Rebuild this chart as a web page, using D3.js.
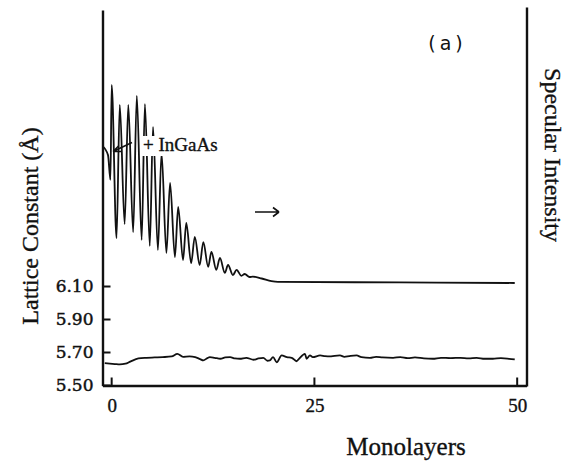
<!DOCTYPE html>
<html>
<head>
<meta charset="utf-8">
<script src="https://cdn.jsdelivr.net/npm/d3@7"></script>
<style>
  body { margin: 0; background: #fff; }
  .serif { font-family: "Liberation Serif", "Times New Roman", serif; fill: #111; stroke: #111; stroke-width: 0.35px; }
</style>
</head>
<body>
<div class="chart"></div>
<script>
// Tick labels
var xTicks = [0, 25, 50];
var yTicks = [5.50, 5.70, 5.90, 6.10];

// Specular intensity (arbitrary units, right axis) vs monolayers
var intensityML = [-1.13, -0.45, -0.15, 0.0, 0.6, 1.0, 1.6, 2.05, 2.65, 3.1, 3.7, 4.1, 4.7, 5.1, 5.7,
  6.15, 6.75, 7.2, 7.8, 8.2, 8.8, 9.2, 9.8, 10.25, 10.85, 11.3, 11.9, 12.3, 12.9, 13.35, 13.95,
  14.35, 14.95, 15.4, 16.0, 16.4, 17.0, 17.4, 18.5, 19.7, 20.5, 30, 40, 49.7];
var intensityVal = [63.7, 61.3, 54.7, 80.0, 39.2, 74.7, 42.9, 74.7, 40.8, 77.1, 38.7, 74.9, 37.1, 68.8, 36.0,
  61.9, 35.2, 53.9, 34.1, 47.5, 33.3, 43.2, 32.5, 39.5, 32.0, 38.1, 31.5, 35.5, 30.7, 33.9, 29.9,
  32.0, 29.3, 30.7, 29.1, 29.6, 28.8, 28.9, 28.4, 27.7, 27.5, 27.4, 27.3, 27.2];

// Lattice constant (Angstrom, left axis) vs monolayers
var latticeML = [-0.85, 0.4, 1.0, 1.7, 2.3, 3.3, 4.3, 5.3, 6.3, 7.4, 8.1, 8.8, 9.6, 10.3, 10.9, 11.3,
  11.8, 12.1, 12.7, 13.4, 14.0, 14.6, 15.2, 15.8, 16.6, 17.5, 18.1, 18.7, 19.2, 19.5, 19.9, 20.35,
  20.96, 21.6, 22.2, 22.8, 23.1, 23.83, 24.04, 24.45, 24.8, 25.7, 26.3, 26.9, 27.5, 28.15, 28.7,
  29.3, 30.2, 30.8, 31.85, 32.6, 33.4, 34.7, 35.6, 36.5, 37.4, 38.5, 39.6, 40.6, 41.8, 43.0, 44.0,
  45.0, 46.0, 47.0, 48.0, 49.0, 49.7];
var latticeVal = [5.635, 5.630, 5.628, 5.632, 5.645, 5.664, 5.668, 5.670, 5.672, 5.676, 5.692, 5.674,
  5.676, 5.672, 5.660, 5.652, 5.666, 5.672, 5.668, 5.662, 5.670, 5.672, 5.664, 5.662, 5.668, 5.656,
  5.664, 5.668, 5.650, 5.652, 5.672, 5.641, 5.682, 5.672, 5.668, 5.647, 5.662, 5.692, 5.662, 5.682,
  5.672, 5.682, 5.678, 5.676, 5.680, 5.682, 5.674, 5.678, 5.682, 5.672, 5.668, 5.674, 5.670, 5.668,
  5.672, 5.666, 5.670, 5.664, 5.662, 5.668, 5.666, 5.668, 5.664, 5.668, 5.662, 5.662, 5.666, 5.662,
  5.658];

var svgWidth = 568;
var svgHeight = 466;

var svg = d3.select(".chart")
  .append("svg")
  .attr("width", svgWidth)
  .attr("height", svgHeight);

// Scales
var x = d3.scaleLinear().domain([-1.13, 51.15]).range([102.5, 526.5]);
var y = d3.scaleLinear().domain([5.5, 7.776]).range([385.5, 10]);
var yInt = d3.scaleLinear().domain([0, 100]).range([385, 10]);

var xLeft = x(-1.13);
var yBottom = y(5.5);

// Bottom axis (labels only, ticks drawn below)
var xAxis = d3.axisBottom(x)
  .tickValues(xTicks)
  .tickFormat(d3.format("d"))
  .tickSize(0)
  .tickPadding(13);

svg.append("g")
  .attr("transform", "translate(0," + yBottom + ")")
  .call(xAxis)
  .call(function(g) {
    g.select(".domain").attr("stroke", "#111").attr("stroke-width", 2.4);
    g.selectAll(".tick text")
      .attr("class", "serif")
      .style("font-size", "19px");
  });

// Left axis
var yAxis = d3.axisLeft(y)
  .tickValues(yTicks)
  .tickFormat(d3.format(".2f"))
  .tickSize(0)
  .tickPadding(9);

svg.append("g")
  .attr("transform", "translate(" + xLeft + ",0)")
  .call(yAxis)
  .call(function(g) {
    g.select(".domain").attr("stroke", "#111").attr("stroke-width", 2.4);
    g.selectAll(".tick text")
      .style("font-family", "'DejaVu Serif', serif")
      .style("font-size", "17px")
      .style("fill", "#111")
      .style("stroke", "#111")
      .style("stroke-width", "0.45px");
  });

// Inward tick marks
svg.selectAll("line.xtick")
  .data(xTicks)
  .enter().append("line")
  .attr("class", "xtick")
  .attr("x1", function(d) { return x(d); })
  .attr("x2", function(d) { return x(d); })
  .attr("y1", yBottom)
  .attr("y2", yBottom - 8)
  .attr("stroke", "#111")
  .attr("stroke-width", 2);

svg.selectAll("line.ytick")
  .data(yTicks)
  .enter().append("line")
  .attr("class", "ytick")
  .attr("x1", xLeft)
  .attr("x2", xLeft + 8)
  .attr("y1", function(d) { return y(d); })
  .attr("y2", function(d) { return y(d); })
  .attr("stroke", "#111")
  .attr("stroke-width", 2);

// Right axis: plain line
svg.append("g")
  .attr("transform", "translate(" + x(51.15) + ",0)")
  .call(d3.axisRight(yInt.copy().domain([0, 100.8]).range([386, 7])).tickValues([]).tickSizeOuter(0))
  .call(function(g) { g.select(".domain").attr("stroke", "#111").attr("stroke-width", 2.4); });

// Curves
var intensityData = intensityML.map(function(m, i) { return {ml: m, v: intensityVal[i]}; });
var latticeData = latticeML.map(function(m, i) { return {ml: m, v: latticeVal[i]}; });

var intensityLine = d3.line()
  .x(function(d) { return x(d.ml); })
  .y(function(d) { return yInt(d.v); })
  .curve(d3.curveMonotoneX);

var latticeLine = d3.line()
  .x(function(d) { return x(d.ml); })
  .y(function(d) { return y(d.v); })
  .curve(d3.curveMonotoneX);

svg.append("path")
  .datum(intensityData)
  .attr("fill", "none")
  .attr("stroke", "#111")
  .attr("stroke-width", 1.8)
  .attr("stroke-linejoin", "round")
  .attr("d", intensityLine);

svg.append("path")
  .datum(latticeData)
  .attr("fill", "none")
  .attr("stroke", "#111")
  .attr("stroke-width", 1.8)
  .attr("stroke-linejoin", "round")
  .attr("d", latticeLine);

// "+ InGaAs" annotation with white backing
svg.append("rect")
  .attr("x", 142).attr("y", 136)
  .attr("width", 78).attr("height", 20)
  .attr("fill", "#fff");

svg.append("text")
  .attr("class", "serif")
  .attr("x", 143)
  .attr("y", 151)
  .style("font-size", "19px")
  .text("+ InGaAs");

// small arrow to the curve
svg.append("path")
  .attr("d", "M132,142.5 L113,151.5 M113,151.5 L119,145.5 M113,151.5 L121,151.5")
  .attr("fill", "none")
  .attr("stroke", "#111")
  .attr("stroke-width", 1.5);

// right-pointing arrow
svg.append("path")
  .attr("d", "M255,212 L279,212 M279,212 L273,207.5 M279,212 L273,216.5")
  .attr("fill", "none")
  .attr("stroke", "#111")
  .attr("stroke-width", 1.6);

// (a) panel label
svg.append("text")
  .attr("x", 447.5)
  .attr("y", 50)
  .attr("text-anchor", "middle")
  .style("font-family", "'DejaVu Sans', sans-serif")
  .style("font-size", "19px")
  .style("letter-spacing", "4px")
  .style("fill", "#111")
  .text("(a)");

// Axis titles
svg.append("text")
  .attr("class", "serif")
  .attr("transform", "translate(38,226) rotate(-90)")
  .attr("text-anchor", "middle")
  .style("font-size", "24px")
  .text("Lattice Constant  (Å)");

svg.append("text")
  .attr("class", "serif")
  .attr("transform", "translate(545,155) rotate(90)")
  .attr("text-anchor", "middle")
  .style("font-size", "24px")
  .text("Specular Intensity");

svg.append("text")
  .attr("class", "serif")
  .attr("x", 406)
  .attr("y", 455)
  .attr("text-anchor", "middle")
  .style("font-size", "25px")
  .text("Monolayers");
</script>
</body>
</html>
